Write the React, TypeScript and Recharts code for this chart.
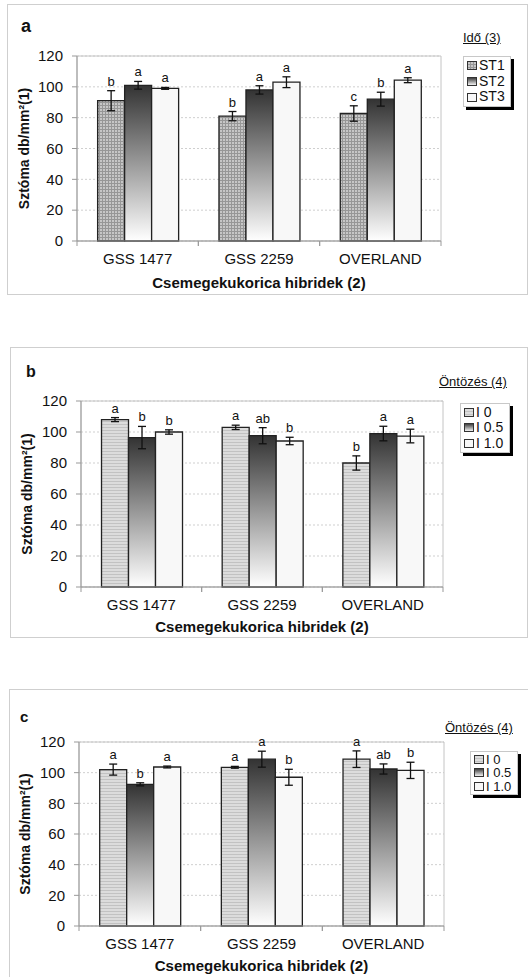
import React from 'react';
import { BarChart, Bar, XAxis, YAxis, CartesianGrid, ErrorBar, ReferenceArea, LabelList } from 'recharts';

const FONT = '"Liberation Sans", Arial, Helvetica, sans-serif';

const hybrids = ['GSS 1477', 'GSS 2259', 'OVERLAND'];
const yTicks = [0, 20, 40, 60, 80, 100, 120];
const xTitle = 'Csemegekukorica hibridek (2)';
const yTitle = 'Sztóma db/mm²(1)';

const idoTitle = 'Idő (3)';
const idoNames = ['ST1', 'ST2', 'ST3'];
const ontozesTitle = 'Öntözés (4)';
const ontozesNames = ['I 0', 'I 0.5', 'I 1.0'];

// Panel a (Idő)
const aST1 = [91, 81, 82.7];
const aST1Err = [6.5, 3, 5];
const aST1Let = ['b', 'b', 'c'];
const aST2 = [101, 98, 92];
const aST2Err = [2.5, 2.7, 4.5];
const aST2Let = ['a', 'a', 'b'];
const aST3 = [99, 103, 104.3];
const aST3Err = [0.6, 3.5, 1.6];
const aST3Let = ['a', 'a', 'a'];

// Panel b (Öntözés)
const bI0 = [108, 103, 80];
const bI0Err = [1.3, 1.4, 4.6];
const bI0Let = ['a', 'a', 'b'];
const bI05 = [96.4, 97.6, 99];
const bI05Err = [7.2, 5.2, 4.7];
const bI05Let = ['b', 'ab', 'a'];
const bI10 = [100, 94.2, 97.4];
const bI10Err = [1.4, 2.4, 4.4];
const bI10Let = ['b', 'b', 'a'];

// Panel c (Öntözés)
const cI0 = [102, 103.5, 108.8];
const cI0Err = [3.6, 0.6, 5.4];
const cI0Let = ['a', 'a', 'a'];
const cI05 = [92.4, 108.8, 102.4];
const cI05Err = [1, 5.2, 3.3];
const cI05Let = ['b', 'a', 'ab'];
const cI10 = [103.7, 97, 101.5];
const cI10Err = [0.6, 5.2, 5.3];
const cI10Let = ['a', 'b', 'b'];

type Series = { name: string; values: number[]; errs: number[]; letters: string[]; fill: string };

function makeRows(series: Series[]) {
  return hybrids.map((h, i) => {
    const row: any = { name: h };
    series.forEach((s, k) => {
      row['v' + k] = s.values[i];
      row['e' + k] = s.errs[i];
    });
    return row;
  });
}

const XTick = (props: any) => {
  const { x, y, payload } = props;
  const half = payload && typeof payload.offset === 'number' && payload.offset > 0 ? payload.offset : 0;
  return (
    <g>
      {half > 0 && <line x1={x - half} x2={x - half} y1={y} y2={y + 5} stroke="#999" />}
      {half > 0 && <line x1={x + half} x2={x + half} y1={y} y2={y + 5} stroke="#999" />}
      <text x={x} y={y + 23} textAnchor="middle" fontSize={15} fill="#111" fontFamily={FONT}>
        {payload ? payload.value : ''}
      </text>
    </g>
  );
};

function makeLetterLabel(s: Series) {
  return (props: any) => {
    const vb = props.viewBox && props.viewBox.width != null ? props.viewBox : props;
    const { x, y, width, height } = vb;
    const idx = props.index;
    const v = Number(props.value);
    if (idx == null || !v || height == null) return null;
    const pxPerUnit = Math.abs(height) / v;
    const top = y - s.errs[idx] * pxPerUnit;
    return (
      <text x={x + width / 2} y={top - 5} textAnchor="middle" fontSize={13} fill="#111" fontFamily={FONT}>
        {s.letters[idx]}
      </text>
    );
  };
}

const Defs = ({ p }: { p: string }) => (
  <defs>
    <pattern id={p + 'check'} width="3" height="3" patternUnits="userSpaceOnUse">
      <rect width="3" height="3" fill="#c6c6c6" />
      <rect width="3" height="1" fill="#969696" />
      <rect width="1" height="3" fill="#969696" />
    </pattern>
    <pattern id={p + 'stripe'} width="4" height="3" patternUnits="userSpaceOnUse">
      <rect width="4" height="3" fill="#dcdcdc" />
      <rect width="4" height="1" fill="#c2c2c2" />
    </pattern>
    <linearGradient id={p + 'grad'} x1="0" y1="0" x2="0" y2="1">
      <stop offset="0%" stopColor="#333333" />
      <stop offset="100%" stopColor="#ffffff" />
    </linearGradient>
  </defs>
);

type PanelCfg = {
  id: string;
  letter: string;
  letterFont: number;
  letterPos: { left: number; top: number };
  top: number;
  height: number;
  margin: { top: number; right: number; bottom: number; left: number };
  yLabelOffset: number;
  xLabelOffset: number;
  border: { left: number; top: number; width: number; height: number };
  legendTitle: string;
  legendTitlePos: { left: number; top: number };
  legendBox: { left: number; top: number; width: number; height: number };
  legendFont: number;
  legendNames: string[];
  series: Series[];
};

function Legend2({ cfg }: { cfg: PanelCfg }) {
  const rowH = (cfg.legendBox.height - 4) / 3;
  return (
    <>
      <div
        style={{
          position: 'absolute',
          left: cfg.legendTitlePos.left,
          top: cfg.legendTitlePos.top,
          fontFamily: FONT,
          fontSize: 13,
          textDecoration: 'underline',
          color: '#111',
          whiteSpace: 'nowrap',
          lineHeight: '16px',
        }}
      >
        {cfg.legendTitle}
      </div>
      <div
        style={{
          position: 'absolute',
          left: cfg.legendBox.left,
          top: cfg.legendBox.top,
          width: cfg.legendBox.width,
          height: cfg.legendBox.height,
          border: '1px solid #c8c8c8',
          boxShadow: '3px 3px 0 #000',
          background: '#fff',
          boxSizing: 'border-box',
          paddingTop: 1,
          overflow: 'hidden',
        }}
      >
        {cfg.series.map((s, i) => (
          <div
            key={s.name}
            style={{
              height: rowH,
              lineHeight: rowH + 'px',
              display: 'flex',
              alignItems: 'center',
              paddingLeft: 3,
              fontFamily: FONT,
              fontSize: cfg.legendFont,
              color: '#111',
              whiteSpace: 'nowrap',
            }}
          >
            <svg width={10} height={9} style={{ marginRight: 2, flex: 'none' }}>
              <rect x={0.5} y={0.5} width={9} height={8} fill={s.fill} stroke="#333" strokeWidth={1} />
            </svg>
            <span>{cfg.legendNames[i]}</span>
          </div>
        ))}
      </div>
    </>
  );
}

function Panel({ cfg }: { cfg: PanelCfg }) {
  const rows = makeRows(cfg.series);
  return (
    <>
      <div
        style={{
          position: 'absolute',
          left: cfg.border.left,
          top: cfg.border.top,
          width: cfg.border.width,
          height: cfg.border.height,
          border: '1px solid #cfcfcf',
          boxSizing: 'border-box',
        }}
      />
      <div style={{ position: 'absolute', left: 0, top: cfg.top }}>
        <BarChart
          width={528}
          height={cfg.height}
          data={rows}
          margin={cfg.margin}
          barCategoryGap="17%"
          barGap={0}
        >
          <Defs p={cfg.id} />
          <ReferenceArea y1={0} y2={120} fill="none" stroke="#c4c4c4" ifOverflow="visible" />
          <CartesianGrid vertical={false} stroke="#cfcfcf" strokeDasharray="2 2" />
          <XAxis
            dataKey="name"
            type="category"
            interval={0}
            tickLine={false}
            tickSize={0}
            tickMargin={0}
            height={50}
            axisLine={{ stroke: '#999' }}
            tick={<XTick />}
            label={{
              value: xTitle,
              position: 'insideBottom',
              offset: cfg.xLabelOffset,
              style: { fontFamily: FONT, fontSize: 15, fontWeight: 'bold', fill: '#111' },
            }}
          />
          <YAxis
            type="number"
            domain={[0, 120]}
            ticks={yTicks}
            interval={0}
            width={72}
            tickSize={5}
            tickMargin={9}
            axisLine={{ stroke: '#999' }}
            tickLine={{ stroke: '#999' }}
            tick={{ fontFamily: FONT, fontSize: 15, fill: '#111' }}
            label={{
              value: yTitle,
              angle: -90,
              position: 'insideLeft',
              offset: cfg.yLabelOffset,
              style: { textAnchor: 'middle', fontFamily: FONT, fontSize: 14, fontWeight: 'bold', fill: '#111' },
            }}
          />
          {cfg.series.map((s, k) => (
            <Bar
              key={s.name}
              dataKey={'v' + k}
              name={s.name}
              fill={s.fill}
              stroke="#222"
              strokeWidth={1.3}
              isAnimationActive={false}
            >
              <ErrorBar dataKey={'e' + k} width={4} stroke="#111" strokeWidth={1.3} />
              <LabelList content={makeLetterLabel(s)} />
            </Bar>
          ))}
        </BarChart>
      </div>
      <div
        style={{
          position: 'absolute',
          left: cfg.letterPos.left,
          top: cfg.letterPos.top,
          fontFamily: FONT,
          fontSize: cfg.letterFont,
          fontWeight: 'bold',
          color: '#111',
          lineHeight: '20px',
        }}
      >
        {cfg.letter}
      </div>
      <Legend2 cfg={cfg} />
    </>
  );
}

const panelA: PanelCfg = {
  id: 'pa',
  letter: 'a',
  letterFont: 18,
  letterPos: { left: 21, top: 16 },
  top: 0,
  height: 300,
  margin: { top: 56, right: 87, bottom: 9, left: 5 },
  yLabelOffset: 19,
  xLabelOffset: 3,
  border: { left: 7, top: 4, width: 521, height: 291 },
  legendTitle: idoTitle,
  legendTitlePos: { left: 463, top: 30 },
  legendBox: { left: 463, top: 56, width: 48, height: 51 },
  legendFont: 14,
  legendNames: idoNames,
  series: [
    { name: idoNames[0], values: aST1, errs: aST1Err, letters: aST1Let, fill: 'url(#pacheck)' },
    { name: idoNames[1], values: aST2, errs: aST2Err, letters: aST2Let, fill: 'url(#pagrad)' },
    { name: idoNames[2], values: aST3, errs: aST3Err, letters: aST3Let, fill: '#f8f8f8' },
  ],
};

const panelB: PanelCfg = {
  id: 'pb',
  letter: 'b',
  letterFont: 16,
  letterPos: { left: 26, top: 362 },
  top: 340,
  height: 300,
  margin: { top: 61, right: 85, bottom: 3, left: 9 },
  yLabelOffset: 18,
  xLabelOffset: 5,
  border: { left: 10, top: 347, width: 518, height: 291 },
  legendTitle: ontozesTitle,
  legendTitlePos: { left: 439, top: 374 },
  legendBox: { left: 460, top: 403, width: 50, height: 50 },
  legendFont: 14,
  legendNames: ontozesNames,
  series: [
    { name: ontozesNames[0], values: bI0, errs: bI0Err, letters: bI0Let, fill: 'url(#pbstripe)' },
    { name: ontozesNames[1], values: bI05, errs: bI05Err, letters: bI05Let, fill: 'url(#pbgrad)' },
    { name: ontozesNames[2], values: bI10, errs: bI10Err, letters: bI10Let, fill: '#f8f8f8' },
  ],
};

const panelC: PanelCfg = {
  id: 'pc',
  letter: 'c',
  letterFont: 15,
  letterPos: { left: 20, top: 707 },
  top: 680,
  height: 297,
  margin: { top: 62, right: 84, bottom: 1, left: 7 },
  yLabelOffset: 18,
  xLabelOffset: 5,
  border: { left: 9, top: 689, width: 520, height: 300 },
  legendTitle: ontozesTitle,
  legendTitlePos: { left: 445, top: 720 },
  legendBox: { left: 470, top: 751, width: 48, height: 44 },
  legendFont: 13,
  legendNames: ontozesNames,
  series: [
    { name: ontozesNames[0], values: cI0, errs: cI0Err, letters: cI0Let, fill: 'url(#pcstripe)' },
    { name: ontozesNames[1], values: cI05, errs: cI05Err, letters: cI05Let, fill: 'url(#pcgrad)' },
    { name: ontozesNames[2], values: cI10, errs: cI10Err, letters: cI10Let, fill: '#f8f8f8' },
  ],
};

export default function App() {
  return (
    <div
      style={{
        position: 'absolute',
        left: 0,
        top: 0,
        width: 528,
        height: 977,
        background: '#fff',
        overflow: 'hidden',
      }}
    >
      <Panel cfg={panelA} />
      <Panel cfg={panelB} />
      <Panel cfg={panelC} />
    </div>
  );
}
